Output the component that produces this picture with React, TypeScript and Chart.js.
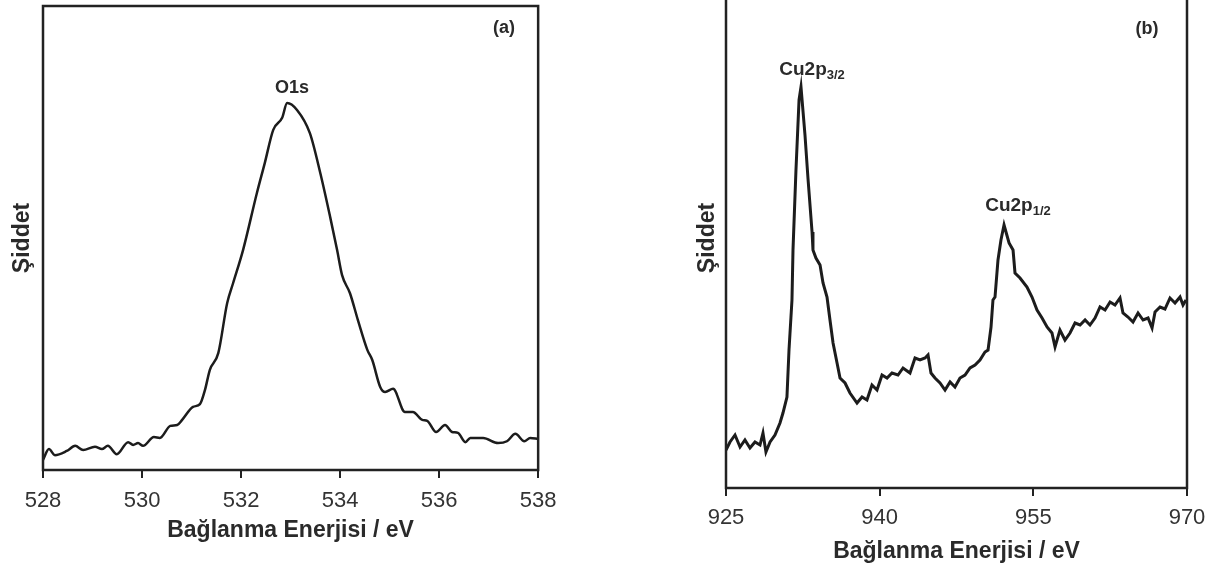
import React, { useEffect, useRef } from "react";
import { Chart, registerables } from "chart.js";

Chart.register(...registerables);

const FONT = "'Liberation Sans', Arial, Helvetica, sans-serif";
const INK = "#1c1c1c";
const TEXT = "#2a2a2a";

const X_TITLE = "Bağlanma Enerjisi / eV";
const Y_TITLE = "Şiddet";

// Panel (a): O1s
const O1S_TICKS = [528, 530, 532, 534, 536, 538];
const O1S_ENERGY = [
  528.0, 528.12, 528.24, 528.48, 528.65, 528.81, 529.05, 529.19, 529.31, 529.49,
  529.72, 529.82, 529.92, 530.02, 530.24, 530.36, 530.57, 530.71, 530.81, 531.03,
  531.17, 531.27, 531.37, 531.54, 531.72, 531.84, 532.04, 532.32, 532.48, 532.65,
  532.83, 532.93, 533.13, 533.39, 533.6, 533.8, 533.94, 534.04, 534.2, 534.36,
  534.55, 534.65, 534.81, 534.91, 535.07, 535.31, 535.47, 535.66, 535.76, 535.94,
  536.12, 536.26, 536.38, 536.53, 536.63, 536.89, 537.19, 537.37, 537.54, 537.72,
  537.84, 538.0,
];
const O1S_INTENSITY = [
  2.2, 4.5, 3.2, 4.1, 5.2, 4.3, 5.0, 4.5, 5.2, 3.4,
  6.0, 5.4, 5.8, 5.2, 7.1, 6.9, 9.5, 9.7, 10.8, 13.6,
  14.2, 17.2, 21.6, 25.2, 36.0, 40.3, 47.4, 59.7, 66.2, 73.3,
  75.9, 79.1, 77.6, 72.6, 64.0, 54.5, 47.4, 42.0, 38.1, 32.3,
  25.9, 23.7, 17.9, 16.8, 17.5, 12.5, 12.5, 10.8, 10.6, 8.2,
  9.7, 8.2, 8.0, 6.0, 6.9, 6.9, 5.8, 6.2, 7.8, 6.2,
  6.9, 6.7,
];

// Panel (b): Cu2p
const CU_TICKS = [925, 940, 955, 970];
const CU_ENERGY = [
  925.0, 925.39, 925.88, 926.37, 926.85, 927.34, 927.83, 928.32, 928.61, 928.9,
  929.3, 929.78, 930.27, 930.56, 930.95, 931.15, 931.44, 931.54, 931.83, 932.13,
  932.32, 932.71, 933.0, 933.4, 933.49, 933.78, 934.18, 934.47, 934.86, 935.15,
  935.45, 935.84, 936.13, 936.62, 937.1, 937.79, 938.28, 938.76, 939.25, 939.74,
  940.23, 940.72, 941.2, 941.79, 942.28, 942.96, 943.45, 943.94, 944.43, 944.72,
  945.01, 945.4, 945.89, 946.38, 946.87, 947.35, 947.84, 948.33, 948.82, 949.31,
  949.79, 950.28, 950.58, 950.87, 951.06, 951.26, 951.55, 951.84, 952.14, 952.63,
  953.02, 953.21, 953.7, 954.38, 954.87, 955.36, 955.85, 956.34, 956.82, 957.12,
  957.6, 958.09, 958.58, 959.07, 959.56, 960.05, 960.53, 961.02, 961.51, 962.0,
  962.49, 962.97, 963.46, 963.75, 964.24, 964.73, 965.22, 965.71, 966.2, 966.59,
  966.88, 967.37, 967.85, 968.34, 968.83, 969.32, 969.61, 969.9,
];
const CU_INTENSITY = [
  7.6, 9.2, 10.6, 8.2, 9.6, 8.0, 9.2, 8.6, 11.0, 7.2,
  9.2, 10.6, 13.0, 15.0, 18.2, 27.6, 37.6, 47.6, 63.6, 77.6,
  80.2, 70.6, 62.0, 51.2, 47.6, 46.0, 44.6, 41.0, 38.2, 33.6,
  29.0, 25.0, 22.0, 21.0, 19.0, 17.0, 18.2, 17.6, 20.6, 19.6,
  22.6, 22.0, 23.0, 22.6, 24.0, 23.0, 26.0, 25.6, 26.0, 26.6,
  23.0, 22.0, 21.0, 19.6, 21.2, 20.2, 22.0, 22.6, 24.0, 24.6,
  25.6, 27.2, 27.6, 32.2, 37.6, 38.2, 45.6, 49.6, 52.6, 49.0,
  47.6, 43.0, 42.0, 40.2, 38.2, 35.6, 34.0, 32.2, 31.0, 28.2,
  31.6, 29.6, 31.0, 33.0, 32.6, 33.6, 32.6, 34.0, 36.2, 35.6,
  37.2, 36.6, 38.0, 35.0, 34.2, 33.2, 35.0, 33.6, 34.0, 32.0,
  35.2, 36.2, 35.8, 38.0, 37.0, 38.2, 36.6, 37.6,
];

type Note = { text: string; sub?: string; x: number; y: number; size: number; subSize?: number };

const NOTES_A: Note[] = [
  { text: "O1s", x: 533.03, y: 82.3, size: 18 },
  { text: "(a)", x: 537.31, y: 95.3, size: 18 },
];
const NOTES_B: Note[] = [
  { text: "Cu2p", sub: "3/2", x: 933.4, y: 83.6, size: 19, subSize: 13 },
  { text: "Cu2p", sub: "1/2", x: 953.5, y: 56.4, size: 19, subSize: 13 },
  { text: "(b)", x: 966.1, y: 91.8, size: 18 },
];

function framePlugin(notes: Note[]) {
  return {
    id: "frameAndNotes",
    afterDraw(chart: any) {
      const { ctx, chartArea: a, scales } = chart;
      ctx.save();
      ctx.strokeStyle = "#222";
      ctx.lineWidth = 2.5;
      ctx.strokeRect(a.left, a.top, a.right - a.left, a.bottom - a.top);
      ctx.fillStyle = TEXT;
      ctx.textBaseline = "middle";
      ctx.textAlign = "left";
      for (const n of notes) {
        const px = scales.x.getPixelForValue(n.x);
        const py = scales.y.getPixelForValue(n.y);
        ctx.font = `bold ${n.size}px ${FONT}`;
        const w1 = ctx.measureText(n.text).width;
        let w2 = 0;
        if (n.sub) {
          ctx.font = `bold ${n.subSize}px ${FONT}`;
          w2 = ctx.measureText(n.sub).width;
        }
        const start = px - (w1 + w2) / 2;
        ctx.font = `bold ${n.size}px ${FONT}`;
        ctx.fillText(n.text, start, py);
        if (n.sub) {
          ctx.font = `bold ${n.subSize}px ${FONT}`;
          ctx.fillText(n.sub, start + w1, py + n.size * 0.3);
        }
      }
      ctx.restore();
    },
  };
}

type PanelProps = {
  energy: number[];
  intensity: number[];
  ticks: number[];
  notes: Note[];
  left: number;
  top: number;
  width: number;
  height: number;
  padTop: number;
  padRight: number;
  yWidth: number;
  yTitlePad: number;
  xHeight: number;
  xTitlePad: number;
  tickPad: number;
  lineWidth: number;
  tension: number;
};

function Panel(p: PanelProps) {
  const ref = useRef<HTMLCanvasElement | null>(null);
  useEffect(() => {
    if (!ref.current) return;
    const data = p.energy.map((e, i) => ({ x: e, y: p.intensity[i] }));
    const chart = new Chart(ref.current, {
      type: "line",
      data: {
        datasets: [
          {
            data,
            borderColor: INK,
            borderWidth: p.lineWidth,
            pointRadius: 0,
            tension: p.tension,
            cubicInterpolationMode: p.tension > 0 ? "monotone" : "default",
            fill: false,
          } as any,
        ],
      },
      options: {
        animation: false,
        responsive: false,
        events: [],
        layout: { padding: { top: p.padTop, right: p.padRight, left: 0, bottom: 0 } },
        plugins: { legend: { display: false }, tooltip: { enabled: false } },
        scales: {
          x: {
            type: "linear",
            min: p.ticks[0],
            max: p.ticks[p.ticks.length - 1],
            afterBuildTicks: (s: any) => {
              s.ticks = p.ticks.map((v) => ({ value: v }));
            },
            afterFit: (s: any) => {
              s.height = p.xHeight;
            },
            border: { display: false },
            grid: {
              drawOnChartArea: false,
              drawTicks: true,
              tickLength: 8,
              color: "#222",
              lineWidth: 2,
            },
            ticks: {
              padding: p.tickPad,
              color: "#333",
              font: { family: FONT, size: 22 },
              maxRotation: 0,
              autoSkip: false,
            },
            title: {
              display: true,
              text: X_TITLE,
              color: TEXT,
              font: { family: FONT, size: 23, weight: "bold" },
              padding: { top: 0, bottom: p.xTitlePad },
            },
          },
          y: {
            type: "linear",
            min: 0,
            max: 100,
            afterFit: (s: any) => {
              s.width = p.yWidth;
            },
            border: { display: false },
            grid: { display: false },
            ticks: { display: false },
            title: {
              display: true,
              text: Y_TITLE,
              color: TEXT,
              font: { family: FONT, size: 23, weight: "bold" },
              padding: { top: p.yTitlePad, bottom: 0 },
            },
          },
        },
      } as any,
      plugins: [framePlugin(p.notes)],
    });
    return () => chart.destroy();
  }, []);
  return (
    <canvas
      ref={ref}
      width={p.width}
      height={p.height}
      style={{ position: "absolute", left: p.left, top: p.top, width: p.width, height: p.height }}
    />
  );
}

export default function App() {
  return (
    <div
      style={{
        position: "absolute",
        left: 0,
        top: 0,
        width: 1214,
        height: 570,
        overflow: "hidden",
        background: "#fff",
      }}
    >
      <Panel
        energy={O1S_ENERGY}
        intensity={O1S_INTENSITY}
        ticks={O1S_TICKS}
        notes={NOTES_A}
        left={0}
        top={0}
        width={566}
        height={570}
        padTop={6}
        padRight={22}
        yWidth={43}
        yTitlePad={8.5}
        xHeight={100}
        xTitlePad={26}
        tickPad={9.5}
        lineWidth={2.5}
        tension={0.3}
      />
      <Panel
        energy={CU_ENERGY}
        intensity={CU_INTENSITY}
        ticks={CU_TICKS}
        notes={NOTES_B}
        left={690}
        top={-20}
        width={524}
        height={590}
        padTop={8}
        padRight={27}
        yWidth={36}
        yTitlePad={4}
        xHeight={82}
        xTitlePad={4.2}
        tickPad={8.5}
        lineWidth={3}
        tension={0}
      />
    </div>
  );
}
